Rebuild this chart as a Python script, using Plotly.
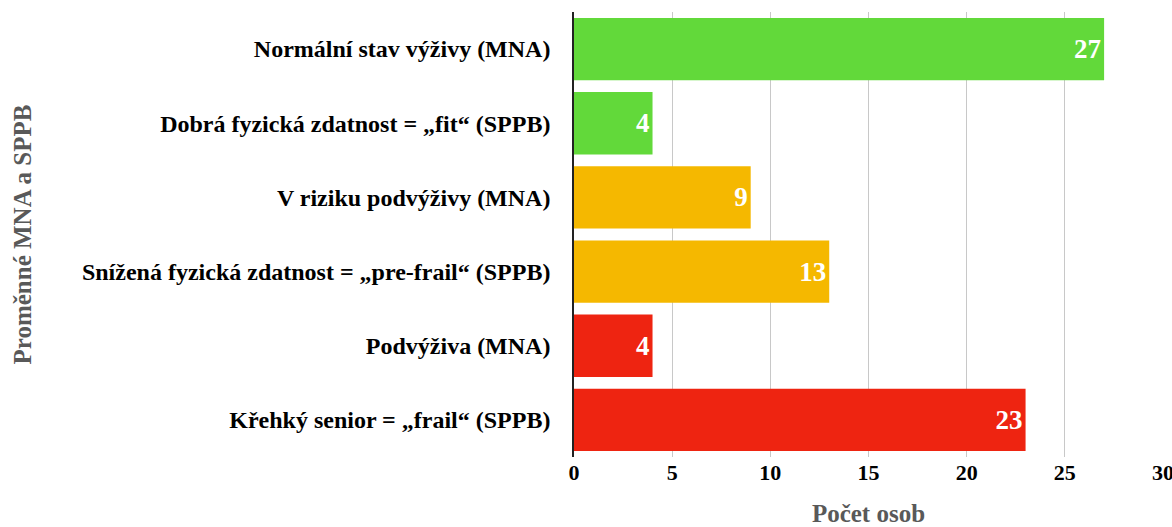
import plotly.graph_objects as go

# Categories listed top to bottom
categories = [
    "Normální stav výživy (MNA)",
    "Dobrá fyzická zdatnost = „fit“ (SPPB)",
    "V riziku podvýživy (MNA)",
    "Snížená fyzická zdatnost = „pre-frail“ (SPPB)",
    "Podvýživa (MNA)",
    "Křehký senior = „frail“ (SPPB)",
]
counts = [27, 4, 9, 13, 4, 23]
bar_colors = ["#62D93A", "#62D93A", "#F5B800", "#F5B800", "#EE2411", "#EE2411"]
x_ticks = [0, 5, 10, 15, 20, 25, 30]

font_family = "Liberation Serif"

fig = go.Figure(
    go.Bar(
        y=categories,
        x=counts,
        orientation="h",
        marker=dict(color=bar_colors, line=dict(width=0)),
        text=[str(v) for v in counts],
        textposition="inside",
        insidetextanchor="end",
        textfont=dict(family=font_family, size=27, color="white", weight="bold"),
        constraintext="none",
        hoverinfo="skip",
    )
)

fig.update_layout(
    width=1172,
    height=527,
    margin=dict(l=574, r=9, t=12, b=70, autoexpand=False),
    plot_bgcolor="white",
    paper_bgcolor="white",
    bargap=0.16,
    showlegend=False,
    font=dict(family=font_family, color="black"),
)

fig.update_xaxes(
    range=[0, 30],
    tickvals=x_ticks,
    ticktext=[str(t) for t in x_ticks],
    tickfont=dict(family=font_family, size=22, color="black", weight="bold"),
    ticklabeloverflow="allow",
    automargin=False,
    showgrid=True,
    gridcolor="#C8C8C8",
    gridwidth=1,
    zeroline=False,
    showline=False,
    ticks="",
    ticklen=0,
    ticklabelstandoff=0,
    title=dict(
        text="Počet osob",
        font=dict(family=font_family, size=25, color="#595959", weight="bold"),
        standoff=30,
    ),
)

fig.update_yaxes(
    categoryorder="array",
    categoryarray=categories[::-1],
    autorange=True,
    automargin=False,
    tickfont=dict(family=font_family, size=24, color="black", weight="bold"),
    showgrid=False,
    zeroline=False,
    showline=True,
    linecolor="#222222",
    linewidth=1.5,
    ticks="",
    ticklabelstandoff=17,
)

fig.add_annotation(
    text="Proměnné MNA a SPPB",
    xref="paper",
    yref="paper",
    x=(22 - 574) / (1172 - 574 - 9),
    y=0.5,
    xanchor="center",
    yanchor="middle",
    textangle=-90,
    showarrow=False,
    font=dict(family=font_family, size=25, color="#595959", weight="bold"),
)

fig.write_html("out.html")
